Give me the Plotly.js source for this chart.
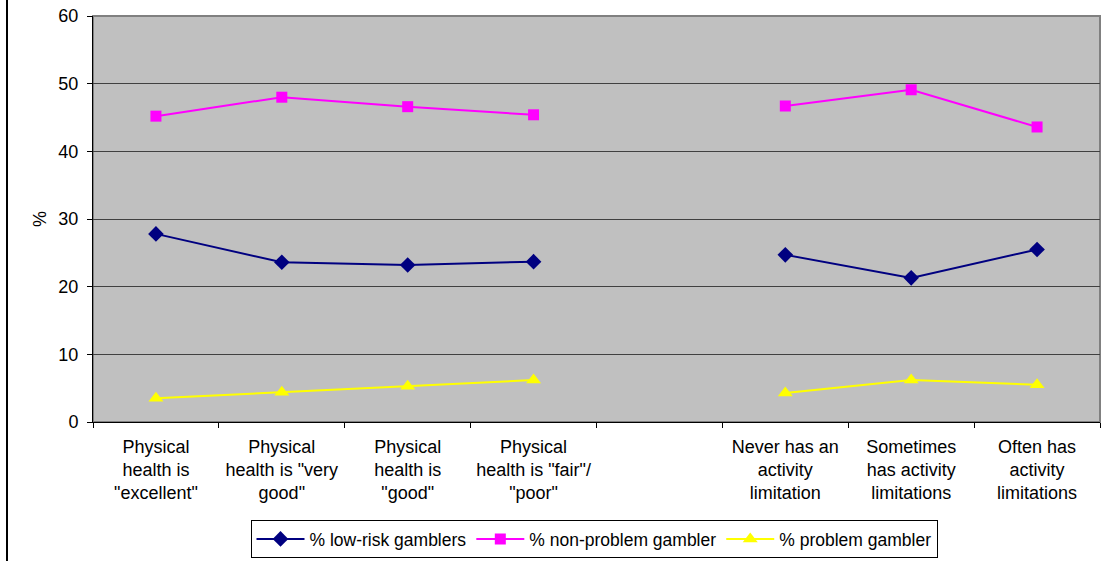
<!DOCTYPE html>
<html>
<head>
<meta charset="utf-8">
<script src="https://cdn.plot.ly/plotly-3.0.1.min.js"></script>
<style>html,body{margin:0;padding:0;background:#fff;}#chart{width:1111px;height:561px;}</style>
</head>
<body>
<div id="chart"></div>
<script>
const categories = [
  'Physical<br>health is<br>"excellent"',
  'Physical<br>health is "very<br>good"',
  'Physical<br>health is<br>"good"',
  'Physical<br>health is "fair"/<br>"poor"',
  ' ',
  'Never has an<br>activity<br>limitation',
  'Sometimes<br>has activity<br>limitations',
  'Often has<br>activity<br>limitations'
];
const lowRisk    = [27.8, 23.6, 23.2, 23.7, null, 24.7, 21.3, 25.5];
const nonProblem = [45.2, 48.0, 46.6, 45.4, null, 46.7, 49.1, 43.6];
const problem    = [3.5, 4.4, 5.3, 6.2, null, 4.3, 6.2, 5.5];
const seriesNames = ['% low-risk gamblers', '% non-problem gambler', '% problem gambler'];

const L = 93, R = 11, T = 16, B = 139, W = 1111, H = 561;
const pw = W - L - R, ph = H - T - B;

const traces = [
  {x: categories, y: lowRisk, name: seriesNames[0], type: 'scatter', mode: 'lines+markers',
   line: {color: '#000080', width: 2}, marker: {symbol: 'diamond', size: 12, color: '#000080'}},
  {x: categories, y: nonProblem, name: seriesNames[1], type: 'scatter', mode: 'lines+markers',
   line: {color: '#FF00FF', width: 2}, marker: {symbol: 'square', size: 11, color: '#FF00FF'}},
  {x: categories, y: problem, name: seriesNames[2], type: 'scatter', mode: 'lines+markers',
   line: {color: '#FFFF00', width: 2}, marker: {symbol: 'triangle-up', size: 13, color: '#FFFF00'}}
];

const layout = {
  width: W, height: H,
  margin: {l: L, r: R, t: T, b: B, autoexpand: false},
  paper_bgcolor: '#ffffff',
  plot_bgcolor: '#C0C0C0',
  font: {family: 'Liberation Sans, Arial, sans-serif', color: '#000', size: 18},
  showlegend: true,
  legend: {
    orientation: 'h', xref: 'container', yref: 'container',
    x: 594 / W, xanchor: 'center',
    y: 1 - 558 / H, yanchor: 'bottom',
    bordercolor: '#000', borderwidth: 1, bgcolor: '#fff',
    font: {size: 17.5}, tracegroupgap: 0, itemwidth: 48
  },
  xaxis: {
    type: 'category', range: [-0.5, 7.5], fixedrange: true,
    showgrid: false, tickson: 'boundaries', ticks: 'outside', ticklen: 5, tickcolor: '#000',
    showline: true, linecolor: '#000', linewidth: 1,
    tickfont: {size: 18}, tickangle: 0, automargin: false, ticklabelstandoff: 8
  },
  yaxis: {
    range: [0, 60], dtick: 10, tick0: 0, fixedrange: true,
    showgrid: true, gridcolor: '#404040', gridwidth: 1,
    ticks: 'outside', ticklen: 5, tickcolor: '#000',
    showline: true, linecolor: '#000', linewidth: 1, zeroline: false,
    tickfont: {size: 18}, automargin: false, ticklabelstandoff: 5,
    title: {text: '%', font: {size: 18}, standoff: 7}
  },
  shapes: [
    {type: 'rect', xref: 'paper', yref: 'paper', x0: 0, x1: 1, y0: 0, y1: 1,
     line: {color: '#808080', width: 2}, layer: 'below'},
    {type: 'line', xref: 'paper', yref: 'paper',
     x0: (7 - L) / pw, x1: (7 - L) / pw, y0: (H - B) / ph, y1: -(B) / ph,
     line: {color: '#000', width: 2}}
  ]
};

Plotly.newPlot('chart', traces, layout, {displayModeBar: false, staticPlot: true});
</script>
</body>
</html>
